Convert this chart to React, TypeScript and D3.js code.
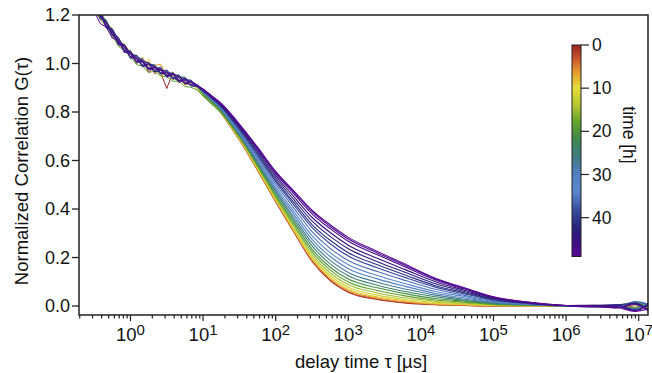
import React from 'react';
import * as d3 from 'd3';

// delay time grid (µs)
const tauMicroseconds = [
  0.1778, 0.2154, 0.2610, 0.3162, 0.3831, 0.4642, 0.5623, 0.6813, 0.8254, 1, 1.2115,
  1.4678, 1.7783, 2.1544, 2.6102, 3.1623, 3.8312, 4.6416, 5.6234, 6.8129, 8.2540,
  10, 13.34, 17.78, 23.71,
  31.62, 56.23, 100, 177.8, 316.2, 562.3, 1000, 2512, 6310, 15849, 39811, 100000, 316228, 1000000,
  2511886, 5011872, 8912509, 14125375,
];
const SMOOTH_FROM = 21; // index where the noisy short-time part ends

// measurement time of each curve (h)
const curveTimesHours = [0, 3, 6, 9, 12, 15, 18, 21, 24, 27, 30, 33, 36, 39, 41, 43, 45, 46.5, 48, 49];

const g_t00 = [1.38,1.315,1.295,1.23,1.208,1.148,1.13,1.108,1.052,1.047,1.0,1.02,.963,.987,.962,.897,.962,.927,.932,.909,.909, .87,.835,.795,.740, .685,.560,.430,.305,.185,.105,.057,.027,.012,.005,.002,0,0,0, .001,-.003,.006,-.004];
const g_t03 = [1.36,1.328,1.265,1.252,1.195,1.17,1.107,1.096,1.074,1.025,1.02,.988,1.006,.957,.975,.967,.942,.949,.912,.921,.897, .872,.833,.796,.741, .686,.561,.431,.307,.187,.107,.059,.029,.014,.006,.003,0,0,0, -.002,.004,-.005,.008];
const g_t06 = [1.39,1.332,1.272,1.245,1.218,1.15,1.137,1.085,1.08,1.043,1.003,1.025,.983,.992,.997,.949,.959,.942,.917,.927,.908, .868,.838,.795,.742, .687,.563,.434,.310,.191,.112,.064,.033,.017,.008,.004,.001,0,0, .002,-.002,.009,.002];
const g_t09 = [1.365,1.305,1.29,1.26,1.188,1.165,1.14,1.07,1.065,1.027,1.03,.995,1.018,.967,.972,.969,.932,.945,.939,.911,.903, .875,.836,.798,.743, .689,.565,.437,.314,.197,.118,.069,.038,.021,.011,.006,.002,.001,0, -.001,.005,-.008,.012];
const g_t12 = [1.375,1.335,1.275,1.22,1.21,1.175,1.117,1.10,1.045,1.055,1.007,1.01,.976,.982,.947,.965,.952,.919,.937,.922,.895, .869,.84,.8,.745, .691,.569,.441,.320,.204,.126,.077,.045,.026,.015,.009,.003,.001,0, .003,-.004,.004,-.01];
const g_t15 = [1.355,1.325,1.30,1.235,1.185,1.168,1.145,1.08,1.072,1.02,1.025,.992,.993,.997,.957,.952,.965,.929,.922,.929,.907, .874,.837,.801,.747, .694,.573,.447,.328,.213,.136,.088,.054,.033,.020,.012,.005,.002,0, -.002,.003,.011,.005];
const g_t18 = [1.35,1.31,1.265,1.232,1.18,1.155,1.113,1.072,1.05,1.03,.995,.99,.963,.969,.949,.945,.927,.927,.905,.902,.891, .866,.832,.796,.750, .697,.578,.453,.336,.224,.148,.099,.064,.041,.025,.016,.007,.003,0, .001,-.005,-.006,.015];
const g_t21 = [1.378,1.308,1.285,1.255,1.192,1.18,1.12,1.10,1.048,1.04,1.033,.985,.996,.967,.979,.949,.952,.952,.915,.925,.906, .872,.84,.803,.753, .701,.583,.460,.346,.235,.160,.111,.075,.050,.031,.020,.009,.004,0, -.003,.002,.013,-.006];
const g_t24 = [1.385,1.34,1.27,1.248,1.215,1.145,1.135,1.095,1.075,1.023,1.023,1.02,.978,.989,.962,.972,.937,.942,.945,.912,.911, .88,.845,.808,.757, .705,.589,.468,.356,.248,.174,.125,.086,.059,.038,.024,.011,.005,.001, .002,.006,-.01,.01];
const g_t27 = [1.362,1.325,1.292,1.225,1.205,1.17,1.115,1.105,1.055,1.053,1.003,1.005,1.003,.972,.987,.942,.955,.925,.932,.927,.908, .878,.846,.81,.760, .708,.594,.475,.366,.261,.188,.138,.098,.069,.045,.028,.014,.005,.001, -.001,-.003,.016,.003];
const g_t30 = [1.382,1.312,1.298,1.245,1.19,1.172,1.133,1.075,1.07,1.04,1.03,.99,.983,.995,.959,.967,.959,.932,.935,.929,.911, .883,.85,.812,.764, .713,.601,.484,.378,.275,.204,.154,.112,.080,.052,.033,.016,.006,.001, .003,.001,-.012,.018];
const g_t33 = [1.358,1.33,1.275,1.258,1.212,1.152,1.14,1.095,1.048,1.045,1.01,1.015,.996,.965,.977,.962,.939,.955,.922,.909,.905, .884,.848,.815,.768, .718,.608,.493,.390,.290,.220,.170,.126,.091,.060,.039,.019,.008,.001, -.002,.006,.007,-.015];
const g_t36 = [1.375,1.305,1.288,1.235,1.22,1.165,1.115,1.102,1.068,1.02,1.027,.995,.998,.985,.955,.975,.942,.945,.939,.912,.909, .885,.853,.818,.772, .723,.615,.503,.404,.307,.238,.188,.142,.104,.069,.044,.022,.009,.001, .001,-.006,.018,.006];
const g_t39 = [1.352,1.332,1.27,1.25,1.195,1.175,1.13,1.082,1.075,1.04,1.005,1.012,.973,.982,.982,.949,.957,.922,.932,.932,.907, .886,.855,.821,.776, .728,.623,.513,.417,.324,.257,.206,.158,.116,.078,.050,.025,.010,.001, .002,.003,-.015,.012];
const g_t41 = [1.38,1.315,1.268,1.252,1.208,1.148,1.143,1.10,1.052,1.05,1.02,.988,1.0,.992,.962,.962,.935,.947,.935,.907,.905, .888,.857,.824,.780, .732,.628,.520,.427,.336,.271,.220,.170,.126,.084,.055,.027,.011,.001, -.004,.005,.01,-.02];
const g_t43 = [1.365,1.338,1.285,1.228,1.192,1.172,1.12,1.105,1.065,1.025,1.035,1.008,.98,.972,.979,.947,.962,.942,.917,.925,.908, .89,.859,.827,.783, .736,.635,.529,.439,.351,.287,.236,.183,.137,.092,.060,.030,.012,.002, .003,-.002,-.018,.008];
const g_t45 = [1.385,1.31,1.29,1.245,1.212,1.155,1.135,1.078,1.078,1.04,1.007,1.01,1.003,.965,.972,.969,.942,.927,.939,.922,.909, .892,.861,.829,.787, .741,.642,.538,.451,.366,.303,.251,.197,.148,.100,.065,.033,.013,.002, -.001,-.007,.012,-.022];
const g_t46 = [1.345,1.315,1.26,1.248,1.185,1.17,1.117,1.095,1.045,1.047,1.02,.99,.996,.987,.957,.962,.957,.932,.919,.927,.909, .893,.863,.832,.791, .745,.648,.546,.463,.380,.319,.267,.211,.159,.107,.070,.035,.014,.002, .002,.004,-.02,.014];
const g_t48 = [1.36,1.30,1.285,1.225,1.21,1.15,1.137,1.085,1.07,1.027,1.027,1.005,.976,.985,.972,.945,.955,.949,.922,.912,.911, .894,.864,.834,.793, .748,.652,.551,.470,.389,.328,.276,.219,.165,.112,.073,.037,.015,.002, -.003,-.008,.006,-.025];
const g_t49 = [1.34,1.275,1.22,1.215,1.165,1.15,1.105,1.095,1.05,1.043,1.01,1.012,.98,.982,.977,.952,.959,.929,.932,.925,.913, .895,.865,.835,.795, .750,.655,.555,.475,.395,.335,.283,.225,.170,.115,.075,.038,.015,.002, .001,-.005,-.022,-.01];

const curveValues = [g_t00, g_t03, g_t06, g_t09, g_t12, g_t15, g_t18, g_t21, g_t24, g_t27,
  g_t30, g_t33, g_t36, g_t39, g_t41, g_t43, g_t45, g_t46, g_t48, g_t49];

const yTickValues = [0, 0.2, 0.4, 0.6, 0.8, 1.0, 1.2];
const colorbarTickValues = [0, 10, 20, 30, 40];
const timeRangeHours = [0, 49];

// colormap (time -> colour)
const cmapStops = [0, 3, 6, 10, 14, 18, 22, 26, 30, 34, 38, 42, 45, 49];
const cmapColors = ['#9a2222', '#c8502a', '#e2962e', '#e6dc3a', '#b4c832', '#62a32e', '#3e8850',
  '#3f7a82', '#5080c0', '#5a88cc', '#3c50a0', '#26267a', '#36127e', '#5a0896'];

const W = 652, H = 373;
const PL = 79, PR = 648, PT = 15, PB = 315;
const FONT = 'Liberation Sans, Arial, sans-serif';

export default function App() {
  const x = d3.scaleLog().domain([Math.pow(10, -0.709), Math.pow(10, 7.128)]).range([PL, PR]);
  const y = d3.scaleLinear().domain([-0.037, 1.2]).range([PB, PT]);
  const color = d3.scaleLinear<string>().domain(cmapStops).range(cmapColors).interpolate(d3.interpolateRgb);
  const cbY = d3.scaleLinear().domain(timeRangeHours).range([45, 256.5]);

  type P = [number, number];
  const noisyLine = d3.line<P>().x((p) => x(p[0])).y((p) => y(p[1])).curve(d3.curveLinear);
  const smoothLine = d3.line<P>().x((p) => x(p[0])).y((p) => y(p[1])).curve(d3.curveMonotoneX);

  const xTicks = x.ticks();
  const isMajor = (v: number) => Math.abs(Math.log10(v) - Math.round(Math.log10(v))) < 1e-6;

  return (
    <svg width={W} height={H} style={{ position: 'absolute', left: 0, top: 0, background: '#fff' }}
      fontFamily={FONT}>
      <defs>
        <clipPath id="plotclip">
          <rect x={PL} y={PT} width={PR - PL} height={PB - PT} />
        </clipPath>
        <linearGradient id="cbgrad" x1="0" y1="0" x2="0" y2="1">
          {cmapStops.map((s, i) => (
            <stop key={i} offset={(s - timeRangeHours[0]) / (timeRangeHours[1] - timeRangeHours[0])} stopColor={cmapColors[i]} />
          ))}
        </linearGradient>
      </defs>
      <rect x={0} y={0} width={W} height={H} fill="#fff" />

      <g clipPath="url(#plotclip)">
        {curveValues.map((vals, i) => {
          const pts: P[] = vals.map((v, k) => [tauMicroseconds[k], v]);
          const c = color(curveTimesHours[i]);
          return (
            <g key={i}>
              <path d={noisyLine(pts.slice(0, SMOOTH_FROM + 1)) || ''} fill="none" stroke={c} strokeWidth={1} strokeLinejoin="round" />
              <path d={smoothLine(pts.slice(SMOOTH_FROM)) || ''} fill="none" stroke={c} strokeWidth={1.1} strokeLinejoin="round" />
            </g>
          );
        })}
      </g>

      {/* frame */}
      <rect x={PL} y={PT} width={PR - PL} height={PB - PT} fill="none" stroke="#222" strokeWidth={1.5} />

      {/* y axis */}
      {yTickValues.map((v) => (
        <g key={v}>
          <line x1={PL - 7} x2={PL} y1={y(v)} y2={y(v)} stroke="#222" strokeWidth={1.3} />
          <text x={PL - 9} y={y(v)} dy="0.35em" textAnchor="end" fontSize={18} fill="#111">{v.toFixed(1)}</text>
        </g>
      ))}
      <text transform={`translate(22,171) rotate(-90)`} textAnchor="middle" dy="0.35em" fontSize={18.5} fill="#111">
        Normalized Correlation G(τ)
      </text>

      {/* x axis */}
      {xTicks.map((v, i) => {
        const major = isMajor(v);
        const px = x(v);
        if (px < PL - 0.5 || px > PR + 0.5) return null;
        return (
          <g key={i}>
            <line x1={px} x2={px} y1={PB} y2={PB + (major ? 6 : 3.5)} stroke="#222" strokeWidth={1.2} />
            {major && (
              <text x={px} y={340.5} textAnchor="middle" fontSize={18.5} fill="#111">
                10<tspan fontSize={15} dy={-6}>{Math.round(Math.log10(v))}</tspan>
              </text>
            )}
          </g>
        );
      })}
      <text x={361} y={368} textAnchor="middle" fontSize={18.5} fill="#111">delay time τ [µs]</text>

      {/* colour bar */}
      <rect x={572} y={cbY(timeRangeHours[0])} width={9} height={cbY(timeRangeHours[1]) - cbY(timeRangeHours[0])}
        fill="url(#cbgrad)" stroke="#222" strokeWidth={1} />
      {colorbarTickValues.map((v) => (
        <g key={v}>
          <line x1={581} x2={589} y1={cbY(v)} y2={cbY(v)} stroke="#222" strokeWidth={1.2} />
          <text x={592} y={cbY(v)} dy="0.35em" fontSize={17.5} fill="#111">{v}</text>
        </g>
      ))}
      <text transform="translate(629,135) rotate(90)" textAnchor="middle" dy="0.35em" fontSize={17.5} fill="#111">time [h]</text>
    </svg>
  );
}
